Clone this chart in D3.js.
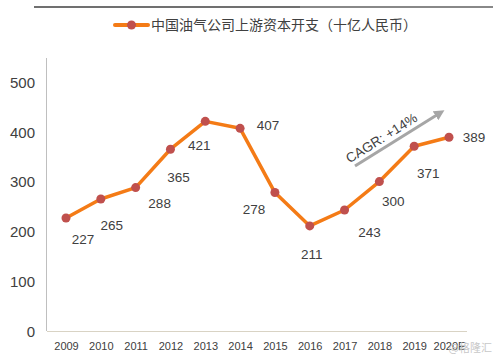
<!DOCTYPE html>
<html><head><meta charset="utf-8">
<script src="https://cdn.jsdelivr.net/npm/d3@7/dist/d3.min.js"></script>
<style>body{margin:0;background:#fff;}svg{display:block;font-family:"Liberation Sans","DejaVu Sans",sans-serif;}</style>
</head><body><svg id="c" width="493" height="359"></svg>
<script>
const years = ["2009","2010","2011","2012","2013","2014","2015","2016","2017","2018","2019","2020E"];
const capex = [227,265,288,365,421,407,278,211,243,300,371,389];
const yTicks = [0,100,200,300,400,500];
const title = "中国油气公司上游资本开支（十亿人民币）";
// label offsets (dx, dy) relative to point
const labelPos = [[17,21],[11,26],[24,16],[8,28],[-6,24],[28,-3],[-21,17],[2,28],[25,22],[14,20],[14,27],[25,0]];

const svg = d3.select("#c");
const x = d3.scalePoint().domain(years).range([66,449]);
const y = d3.scaleLinear().domain([0,500]).range([331,82]);

svg.append("line").attr("x1",34).attr("x2",300).attr("y1",7).attr("y2",7).attr("stroke","#404040").attr("stroke-width",1.5);
svg.append("line").attr("x1",300).attr("x2",493).attr("y1",7).attr("y2",7).attr("stroke","#606060").attr("stroke-width",1.5);

// legend
const lg = svg.append("g");
lg.append("line").attr("x1",115).attr("x2",148).attr("y1",25).attr("y2",25).attr("stroke","#F47B16").attr("stroke-width",4).attr("stroke-linecap","round");
lg.append("circle").attr("cx",131.5).attr("cy",25).attr("r",4.5).attr("fill","#C0504D");
lg.append("text").attr("x",151).attr("y",30).attr("font-size",14).attr("fill","#404040").attr("font-family","Noto Sans CJK SC").text(title);

// axes
svg.append("line").attr("x1",46.5).attr("x2",46.5).attr("y1",58).attr("y2",331).attr("stroke","#BFBFBF");
svg.append("line").attr("x1",47).attr("x2",467).attr("y1",331.5).attr("y2",331.5).attr("stroke","#D9D3C4").attr("stroke-width",1);

const yAxis = d3.axisLeft(y).tickValues(yTicks).tickSize(0).tickPadding(0);
const ya = svg.append("g").attr("transform","translate(35,0)").call(yAxis);
ya.select(".domain").remove();
ya.selectAll("text").attr("font-size",15).attr("fill","#404040").attr("font-family","Liberation Sans, sans-serif").attr("dy","0.35em");

const xAxis = d3.axisBottom(x).tickSize(0).tickPadding(0);
const xa = svg.append("g").attr("transform","translate(0,342)").call(xAxis);
xa.select(".domain").remove();
xa.selectAll("text").attr("font-size",11).attr("fill","#404040").attr("font-family","Liberation Sans, sans-serif").attr("dy","0.71em");

// line
const line = d3.line().x((d,i)=>x(years[i])).y(d=>y(d));
svg.append("path").datum(capex).attr("d",line).attr("fill","none").attr("stroke","#F47B16").attr("stroke-width",3.5).attr("stroke-linejoin","round");
svg.selectAll("circle.pt").data(capex).enter().append("circle").attr("class","pt")
  .attr("cx",(d,i)=>x(years[i])).attr("cy",d=>y(d)).attr("r",4.5).attr("fill","#C0504D");
svg.selectAll("text.lbl").data(capex).enter().append("text").attr("class","lbl")
  .attr("x",(d,i)=>x(years[i])+labelPos[i][0]).attr("y",(d,i)=>y(d)+labelPos[i][1])
  .attr("text-anchor","middle").attr("dy","0.35em").attr("font-size",13.5).attr("fill","#404040").text(d=>d);

// CAGR arrow
svg.append("defs").append("marker").attr("id","ah").attr("viewBox","0 0 10 10").attr("refX",5).attr("refY",5)
  .attr("markerWidth",3.5).attr("markerHeight",3.5).attr("orient","auto")
  .append("path").attr("d","M0,0L10,5L0,10z").attr("fill","#A6A6A6");
svg.append("line").attr("x1",355).attr("y1",166).attr("x2",440).attr("y2",113).attr("stroke","#A6A6A6").attr("stroke-width",3).attr("marker-end","url(#ah)");
svg.append("text").attr("transform","translate(384,142) rotate(-32)").attr("text-anchor","middle").attr("font-size",13.5).attr("fill","#404040").text("CAGR: +14%");

// watermark
svg.append("text").attr("x",492).attr("y",352).attr("text-anchor","end").attr("font-size",11).attr("fill","#C8C8C8").attr("font-family","Noto Sans CJK SC").text("@格隆汇");
</script></body></html>
